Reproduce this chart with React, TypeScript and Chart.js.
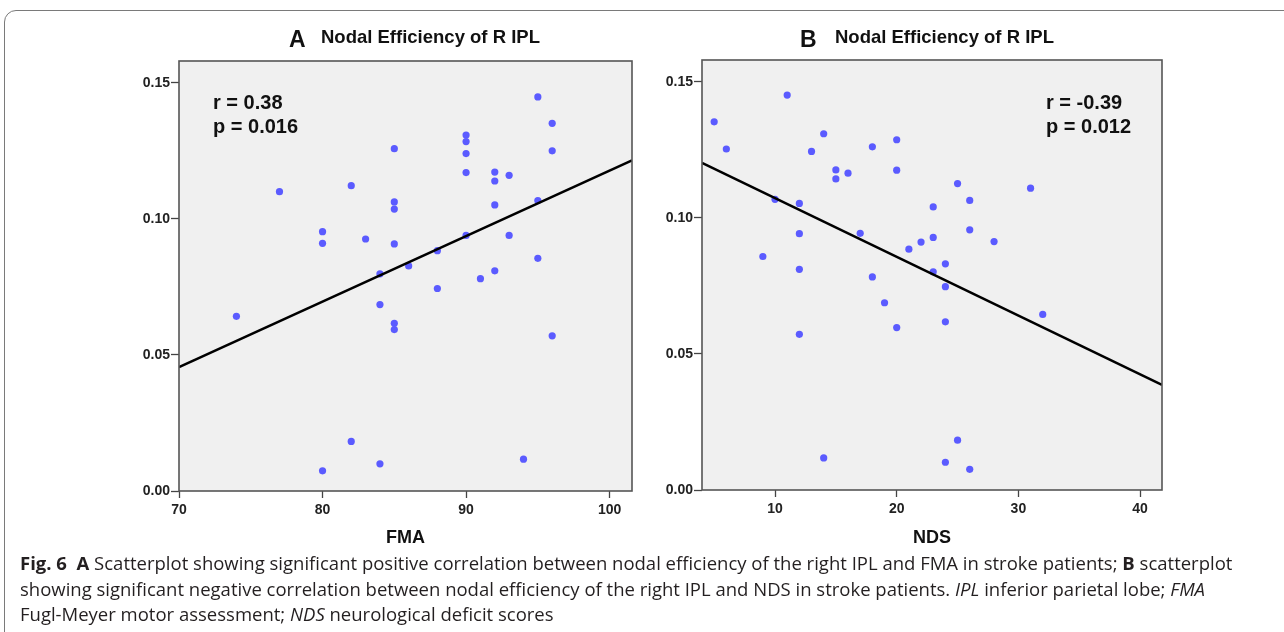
import React, { useEffect, useRef } from "react";
import { Chart, registerables } from "chart.js";

Chart.register(...registerables);

// ---- Panel A: FMA vs nodal efficiency ----
const fmaX = [74, 77, 80, 80, 80, 82, 82, 83, 84, 84, 84, 85, 85, 85, 85, 85, 85, 86, 88, 88, 90, 90, 90, 90, 90, 91, 92, 92, 92, 92, 93, 93, 94, 95, 95, 95, 96, 96, 96];
const fmaY = [0.0642, 0.110, 0.0953, 0.0910, 0.0074, 0.1122, 0.0182, 0.0926, 0.0798, 0.0685, 0.0100, 0.1258, 0.1062, 0.1036, 0.0908, 0.0616, 0.0593, 0.0827, 0.0883, 0.0744, 0.1308, 0.1284, 0.1240, 0.1170, 0.0939, 0.0780, 0.1172, 0.1139, 0.1051, 0.0809, 0.1160, 0.0939, 0.0117, 0.1448, 0.1067, 0.0855, 0.1351, 0.1250, 0.0570];
const fitAX = [70, 101.56];
const fitAY = [0.0455, 0.1215];
const xTicksA = [70, 80, 90, 100];

// ---- Panel B: NDS vs nodal efficiency ----
const ndsX = [5, 6, 9, 10, 11, 12, 12, 12, 12, 13, 14, 14, 15, 15, 16, 17, 18, 18, 19, 20, 20, 20, 21, 22, 23, 23, 23, 24, 24, 24, 24, 25, 25, 26, 26, 26, 28, 31, 32];
const ndsY = [0.1353, 0.1253, 0.0858, 0.1068, 0.1451, 0.1053, 0.0942, 0.0811, 0.0572, 0.1244, 0.1309, 0.0118, 0.1176, 0.1143, 0.1164, 0.0943, 0.1261, 0.0783, 0.0688, 0.1287, 0.1175, 0.0597, 0.0885, 0.0911, 0.1040, 0.0928, 0.0802, 0.0831, 0.0747, 0.0618, 0.0102, 0.1126, 0.0183, 0.1064, 0.0956, 0.0076, 0.0913, 0.1109, 0.0645];
const fitBX = [4, 41.8];
const fitBY = [0.1202, 0.0386];
const xTicksB = [10, 20, 30, 40];

const yTicks = [0, 0.05, 0.1, 0.15];

const titleLetters = ["A", "B"];
const titleText = "Nodal Efficiency of R IPL";
const statsA = ["r = 0.38", "p = 0.016"];
const statsB = ["r = -0.39", "p = 0.012"];
const axisTitles = ["FMA", "NDS"];

const FONT = "'Liberation Sans', Arial, sans-serif";
const POINT = "#5b5bff";

type PanelCfg = {
  xs: number[];
  ys: number[];
  fx: number[];
  fy: number[];
  xTicks: number[];
  xMin: number;
  xMax: number;
  yMax: number;
  canvasW: number;
  canvasH: number;
  area: { left: number; top: number; right: number; bottom: number };
  letter: string;
  letterX: number;
  textX: number;
  stats: string[];
  statsX: number;
  axisTitle: string;
};

function makeChart(canvas: HTMLCanvasElement, p: PanelCfg) {
  const deco = {
    id: "deco",
    beforeDraw(chart: any) {
      const { ctx, chartArea: a } = chart;
      ctx.save();
      ctx.fillStyle = "#f0f0f0";
      ctx.fillRect(a.left, a.top, a.right - a.left, a.bottom - a.top);
      ctx.restore();
    },
    afterDatasetsDraw(chart: any) {
      const { ctx, chartArea: a } = chart;
      ctx.save();
      ctx.strokeStyle = "#555";
      ctx.lineWidth = 1.6;
      ctx.strokeRect(a.left, a.top, a.right - a.left, a.bottom - a.top);
      ctx.fillStyle = "#111";
      ctx.font = `bold 20px ${FONT}`;
      ctx.textAlign = "left";
      ctx.textBaseline = "alphabetic";
      ctx.fillText(p.stats[0], p.statsX, 109);
      ctx.fillText(p.stats[1], p.statsX, 133);
      ctx.restore();
    },
    afterDraw(chart: any) {
      const { ctx, chartArea: a } = chart;
      ctx.save();
      ctx.fillStyle = "#111";
      ctx.textBaseline = "alphabetic";
      ctx.textAlign = "left";
      ctx.font = `bold 23px ${FONT}`;
      ctx.fillText(p.letter, p.letterX, 46.5);
      ctx.font = `bold 18.5px ${FONT}`;
      ctx.fillText(titleText, p.textX, 43);
      ctx.textAlign = "center";
      ctx.font = `bold 18px ${FONT}`;
      ctx.fillText(p.axisTitle, (a.left + a.right) / 2, 543);
      ctx.restore();
    },
  };

  return new Chart(canvas, {
    type: "scatter",
    data: {
      datasets: [
        {
          type: "line",
          data: p.fx.map((x, i) => ({ x, y: p.fy[i] })),
          borderColor: "#000",
          borderWidth: 2.6,
          pointRadius: 0,
          fill: false,
        } as any,
        {
          data: p.xs.map((x, i) => ({ x, y: p.ys[i] })),
          backgroundColor: POINT,
          borderWidth: 0,
          pointRadius: 3.6,
        },
      ],
    },
    options: {
      animation: false,
      responsive: false,
      maintainAspectRatio: false,
      events: [],
      layout: {
        padding: {
          left: 0,
          top: p.area.top,
          right: p.canvasW - p.area.right,
          bottom: 0,
        },
      },
      plugins: { legend: { display: false }, tooltip: { enabled: false }, title: { display: false } },
      scales: {
        x: {
          type: "linear",
          min: p.xMin,
          max: p.xMax,
          afterFit: (s: any) => {
            s.height = p.canvasH - p.area.bottom;
          },
          afterBuildTicks: (s: any) => {
            s.ticks = p.xTicks.map((v) => ({ value: v }));
          },
          grid: { drawOnChartArea: false, drawTicks: true, tickLength: 7, tickColor: "#444", tickWidth: 1.3 },
          border: { display: false },
          ticks: {
            padding: 4,
            color: "#222",
            font: { family: FONT, size: 14, weight: "bold" },
            maxRotation: 0,
            callback: (v: any) => String(v),
          },
        },
        y: {
          type: "linear",
          min: 0,
          max: p.yMax,
          afterFit: (s: any) => {
            s.width = p.area.left;
          },
          afterBuildTicks: (s: any) => {
            s.ticks = yTicks.map((v) => ({ value: v }));
          },
          grid: { drawOnChartArea: false, drawTicks: true, tickLength: 8, tickColor: "#444", tickWidth: 1.3 },
          border: { display: false },
          ticks: {
            padding: 1,
            color: "#222",
            font: { family: FONT, size: 14, weight: "bold" },
            callback: (v: any) => Number(v).toFixed(2),
          },
        },
      },
    },
    plugins: [deco],
  } as any);
}

export default function App() {
  const refA = useRef<HTMLCanvasElement>(null);
  const refB = useRef<HTMLCanvasElement>(null);
  const capRef = useRef<HTMLDivElement>(null);
  const line1Ref = useRef<HTMLSpanElement>(null);

  useEffect(() => {
    const a = makeChart(refA.current!, {
      xs: fmaX,
      ys: fmaY,
      fx: fitAX,
      fy: fitAY,
      xTicks: xTicksA,
      xMin: 70,
      xMax: 101.56,
      yMax: 0.158,
      canvasW: 660,
      canvasH: 560,
      area: { left: 179, top: 61, right: 632, bottom: 491 },
      letter: titleLetters[0],
      letterX: 289,
      textX: 321,
      stats: statsA,
      statsX: 213,
      axisTitle: axisTitles[0],
    });
    const b = makeChart(refB.current!, {
      xs: ndsX,
      ys: ndsY,
      fx: fitBX,
      fy: fitBY,
      xTicks: xTicksB,
      xMin: 4,
      xMax: 41.8,
      yMax: 0.158,
      canvasW: 624,
      canvasH: 560,
      area: { left: 42, top: 60, right: 502, bottom: 490 },
      letter: titleLetters[1],
      letterX: 140,
      textX: 175,
      stats: statsB,
      statsX: 386,
      axisTitle: axisTitles[1],
    });
    // fit caption's first line to its measured width in the reference
    if (capRef.current && line1Ref.current) {
      const w = line1Ref.current.getBoundingClientRect().width;
      if (w > 0) {
        const fs = 16 * (1213 / w);
        capRef.current.style.fontSize = fs + "px";
      }
    }
    return () => {
      a.destroy();
      b.destroy();
    };
  }, []);

  return (
    <div style={{ position: "absolute", left: 0, top: 0, width: 1284, height: 632, overflow: "hidden", background: "#fff" }}>
      <div
        style={{
          position: "absolute",
          left: 4,
          top: 10,
          width: 1320,
          height: 660,
          border: "1.5px solid #7a7a7a",
          borderRadius: 12,
          boxSizing: "border-box",
        }}
      />
      <canvas ref={refA} width={660} height={560} style={{ position: "absolute", left: 0, top: 0, width: 660, height: 560 }} />
      <canvas ref={refB} width={624} height={560} style={{ position: "absolute", left: 660, top: 0, width: 624, height: 560 }} />
      <div
        ref={capRef}
        style={{
          position: "absolute",
          left: 20,
          top: 550,
          fontFamily: "'Open Sans', 'Noto Sans', sans-serif",
          fontSize: 16,
          lineHeight: "25.5px",
          color: "#231f20",
          whiteSpace: "nowrap",
        }}
      >
        <span ref={line1Ref}>
          <b>Fig. 6</b>&nbsp; <b>A</b> Scatterplot showing significant positive correlation between nodal efficiency of the right IPL and FMA in stroke patients; <b>B</b> scatterplot
        </span>
        <br />
        showing significant negative correlation between nodal efficiency of the right IPL and NDS in stroke patients. <i>IPL</i> inferior parietal lobe; <i>FMA</i>
        <br />
        Fugl-Meyer motor assessment; <i>NDS</i> neurological deficit scores
      </div>
    </div>
  );
}
